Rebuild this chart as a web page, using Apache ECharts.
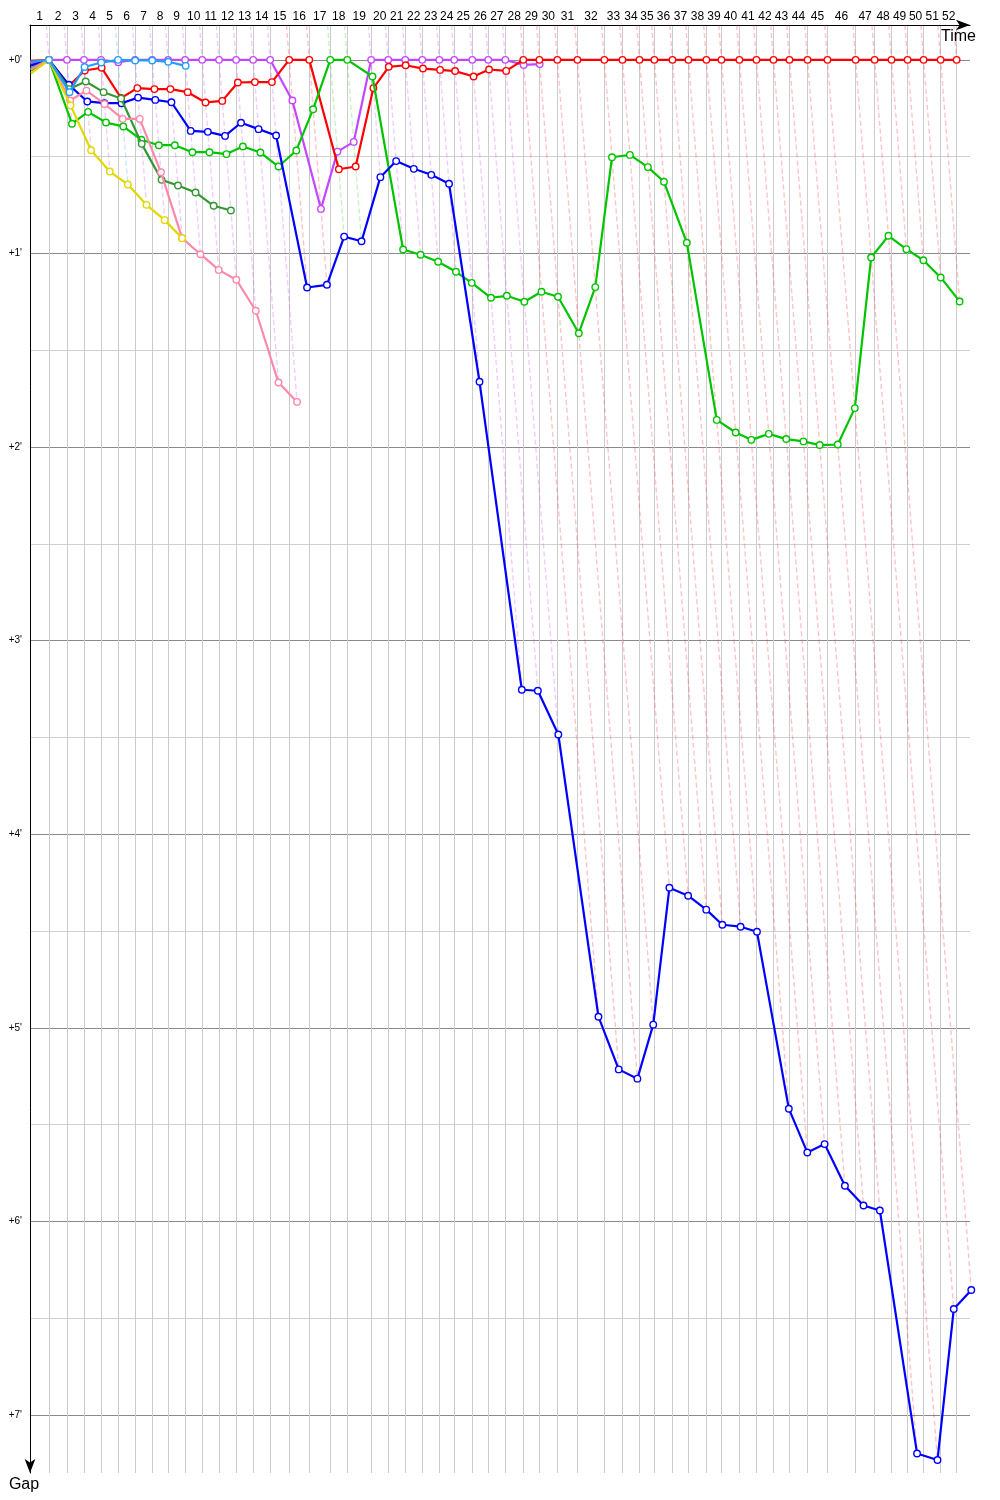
<!DOCTYPE html>
<html>
<head>
<meta charset="utf-8">
<script src="https://cdn.jsdelivr.net/npm/echarts@6/dist/echarts.min.js"></script>
<style>
html,body{margin:0;padding:0;background:#ffffff;}
#chart{width:1000px;height:1500px;}
</style>
</head>
<body>
<div id="chart"></div>
<script>
// ---------- DATA ----------
// Leader's lap completion times (minutes from race start), laps 1..52
const lapNumbers = Array.from({length: 52}, (_, i) => i + 1);
const lapTimes = [
  1.25, 2.43, 3.55, 4.67, 5.79, 6.91, 8.03, 9.08, 10.20, 11.32,
  12.43, 13.55, 14.67, 15.79, 17.04, 18.36, 19.74, 20.86, 22.43, 23.55,
  24.67, 25.79, 26.91, 27.89, 29.08, 30.13, 31.25, 32.43, 33.49, 34.67,
  35.99, 37.76, 38.95, 40.07, 41.05, 42.24, 43.29, 44.47, 45.46, 46.64,
  47.76, 48.88, 49.93, 51.12, 52.43, 54.28, 55.53, 56.64, 57.70, 58.75,
  59.87, 60.92
];

// Gap to the leader (minutes); index 0 = start, index k = end of lap k
const gapsViolet = [0.02, 0, 0, 0, 0, 0.012, 0, 0, 0, 0, 0, 0, 0, 0, 0,
  0.21, 0.77, 0.474, 0.424, 0, 0, 0, 0, 0, 0, 0, 0, 0, 0.026, 0.022];
const gapsRed = [0.005, 0, 0.134, 0.055, 0.041, 0.197, 0.146, 0.151, 0.151, 0.167, 0.22,
  0.212, 0.117, 0.115, 0.115, 0, 0, 0.565, 0.551, 0.146, 0.036,
  0.028, 0.045, 0.052, 0.058, 0.086, 0.05, 0.057, 0, 0, 0,
  0, 0, 0, 0, 0, 0, 0, 0, 0, 0,
  0, 0, 0, 0, 0, 0, 0, 0, 0, 0,
  0, 0];
const gapsGreen = [0.055, 0, 0.33, 0.269, 0.324, 0.344, 0.413, 0.441, 0.441, 0.477, 0.477,
  0.487, 0.448, 0.479, 0.551, 0.468, 0.255, 0, 0, 0.086, 0.98,
  1.007, 1.043, 1.095, 1.152, 1.229, 1.219, 1.25, 1.198, 1.224, 1.412,
  1.174, 0.503, 0.491, 0.554, 0.63, 0.945, 1.86, 1.925, 1.963, 1.932,
  1.959, 1.971, 1.99, 1.987, 1.799, 1.021, 0.909, 0.978, 1.035, 1.124,
  1.248];
const gapsBlue = [0.03, 0, 0.129, 0.215, 0.224, 0.224, 0.195, 0.207, 0.219, 0.367, 0.372,
  0.393, 0.325, 0.358, 0.391, 1.176, 1.162, 0.913, 0.937, 0.606, 0.523,
  0.563, 0.594, 0.64, 1.663, 3.254, 3.259, 3.485, 4.943, 5.215, 5.263,
  4.984, 4.277, 4.318, 4.39, 4.468, 4.478, 4.504, 5.418, 5.644, 5.601,
  5.816, 5.918, 5.944, 7.199, 7.233, 6.453, 6.355];
const gapsDarkGreen = [0.045, 0, 0.151, 0.112, 0.167, 0.2, 0.434, 0.62, 0.649, 0.685, 0.754, 0.778];
const gapsPink = [0.05, 0, 0.21, 0.159, 0.228, 0.305, 0.305, 0.581, 0.921, 1.004, 1.085,
  1.136, 1.296, 1.667, 1.767];
const gapsYellow = [0.07, 0, 0.235, 0.467, 0.577, 0.644, 0.749, 0.828, 0.921];
const gapsCyan = [0.01, 0, 0.167, 0.037, 0.014, 0, 0.003, 0.003, 0.01, 0.031];

// drawing order (first = bottom; also tie-break for lap leader)
const driverKeys = ['violet', 'red', 'green', 'blue', 'darkgreen', 'pink', 'yellow', 'cyan'];
const driverGaps = [gapsViolet, gapsRed, gapsGreen, gapsBlue, gapsDarkGreen, gapsPink, gapsYellow, gapsCyan];
const driverColors = ['#c447ff', '#ff0000', '#00c400', '#0000ff', '#339933', '#ff88aa', '#e2d800', '#229cff'];
const lapLineColors = {
  violet: 'rgba(196,71,255,0.55)', red: 'rgba(255,40,40,0.55)', green: 'rgba(0,200,0,0.45)',
  blue: 'rgba(0,0,255,0.45)', darkgreen: 'rgba(51,153,51,0.45)', pink: 'rgba(255,136,170,0.55)',
  yellow: 'rgba(226,216,0,0.55)', cyan: 'rgba(34,156,255,0.5)'
};

const gapMajorTicks = [0, 1, 2, 3, 4, 5, 6, 7];
const gapAllTicks = [0, 0.5, 1, 1.5, 2, 2.5, 3, 3.5, 4, 4.5, 5, 5.5, 6, 6.5, 7];
const gapMin = -0.18, gapMax = 7.3;
const timeMin = 0, timeMax = 61.8;

// ---------- BUILD ----------
const lapStart = k => (k === 0 ? 0 : lapTimes[k - 1]);
const lapMids = lapTimes.map((t, i) => (lapStart(i) + t) / 2);

function driverPoints(gaps) {
  return gaps.map((g, k) => {
    const p = [lapStart(k) + g, g];
    return k === 0 ? {value: p, symbol: 'none'} : p;
  });
}

// lap lines: from the top of the chart down to the last car on that lap
const lapLines = lapTimes.map((t, i) => {
  const k = i + 1;
  let leader = -1, best = Infinity, worst = 0;
  driverGaps.forEach((gaps, d) => {
    if (gaps.length > k) {
      if (gaps[k] < best) { best = gaps[k]; leader = d; }
      if (gaps[k] > worst) worst = gaps[k];
    }
  });
  return {
    coords: [[t + gapMin, gapMin], [t + worst, worst]],
    lineStyle: {color: lapLineColors[driverKeys[leader]]}
  };
});

const series = [{
  type: 'lines',
  coordinateSystem: 'cartesian2d',
  silent: true,
  z: 1,
  lineStyle: {type: [5, 3], width: 1.4},
  data: lapLines
}];

driverGaps.forEach((gaps, d) => {
  series.push({
    type: 'line',
    name: driverKeys[d],
    data: driverPoints(gaps),
    symbol: 'circle',
    symbolSize: 6.5,
    showSymbol: true,
    showAllSymbol: true,
    clip: false,
    z: 3 + d,
    lineStyle: {color: driverColors[d], width: 2.2},
    itemStyle: {color: '#ffffff', borderColor: driverColors[d], borderWidth: 1.4},
    emphasis: {disabled: true}
  });
});

const chart = echarts.init(document.getElementById('chart'), null, {renderer: 'canvas'});
chart.setOption({
  animation: false,
  backgroundColor: '#ffffff',
  grid: {left: 30, top: 25, width: 940, height: 1448, containLabel: false},
  xAxis: {
    type: 'value', position: 'top', min: timeMin, max: timeMax,
    name: 'Time', nameLocation: 'end', nameGap: 6,
    nameTextStyle: {color: '#000', fontSize: 16, fontFamily: 'Tahoma, "Liberation Sans", sans-serif',
      align: 'right', verticalAlign: 'top', padding: [4, 0, 0, 0]},
    axisLine: {show: true, onZero: false, lineStyle: {color: '#000', width: 1},
      symbol: ['none', 'arrow'], symbolSize: [8, 14]},
    axisTick: {show: false, customValues: lapTimes},
    splitLine: {show: true, lineStyle: {color: '#cccccc', width: 1}},
    axisLabel: {
      customValues: lapMids, margin: 2, color: '#000', fontSize: 12,
      fontFamily: 'Tahoma, "Liberation Sans", sans-serif',
      formatter: v => {
        let bi = 0, bd = Infinity;
        lapMids.forEach((m, i) => { const dd = Math.abs(m - v); if (dd < bd) { bd = dd; bi = i; } });
        return String(lapNumbers[bi]);
      }
    }
  },
  yAxis: {
    type: 'value', inverse: true, min: gapMin, max: gapMax,
    name: 'Gap', nameLocation: 'end', nameGap: 12,
    nameTextStyle: {color: '#000', fontSize: 16, fontFamily: 'Tahoma, "Liberation Sans", sans-serif',
      align: 'center', verticalAlign: 'middle', padding: [0, 12, 0, 0]},
    axisLine: {show: true, onZero: false, lineStyle: {color: '#000', width: 1},
      symbol: ['arrow', 'none'], symbolSize: [8, 14]},
    axisTick: {show: false, customValues: gapAllTicks},
    splitLine: {show: true, lineStyle: {color: ['#8a8a8a', '#d0d0d0'], width: 1}},
    axisLabel: {
      customValues: gapMajorTicks, margin: 8, color: '#000', fontSize: 10,
      fontFamily: 'Tahoma, "Liberation Sans", sans-serif',
      formatter: v => '+' + v + "'"
    }
  },
  series: series
});
</script>
</body>
</html>
